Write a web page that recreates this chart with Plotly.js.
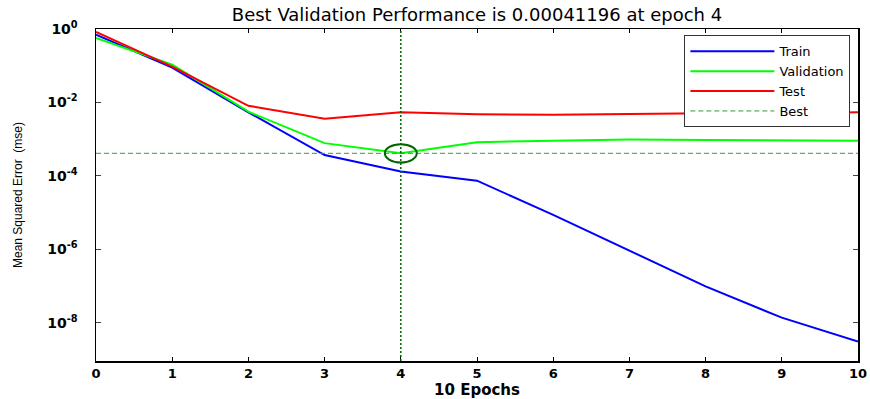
<!DOCTYPE html>
<html>
<head>
<meta charset="utf-8">
<script src="https://cdn.plot.ly/plotly-3.0.1.min.js"></script>
<style>
  html, body { margin: 0; padding: 0; background: #fff; }
  #chart { width: 870px; height: 399px; }
</style>
</head>
<body>
<div id="chart"></div>
<script>
// ---- data ----
const epochs = [0, 1, 2, 3, 4, 5, 6, 7, 8, 9, 10];
const trainPerf = [0.70, 0.089, 0.0054, 0.00037, 0.000132, 0.000074, 8.7e-6, 9.3e-7, 9.8e-8, 1.38e-8, 3.1e-9];
const valPerf   = [0.57, 0.107, 0.0056, 0.00078, 0.00041196, 0.00083, 0.00091, 0.00098, 0.00095, 0.00091, 0.00091];
const testPerf  = [0.83, 0.095, 0.0081, 0.0036, 0.0054, 0.0048, 0.0046, 0.0049, 0.0051, 0.0051, 0.0054];
const bestEpoch = 4;
const bestPerf = 0.00041196;
const yTickVals = [1, 1e-2, 1e-4, 1e-6, 1e-8];
const yTickText = ['10<sup>0</sup>', '10<sup>-2</sup>', '10<sup>-4</sup>', '10<sup>-6</sup>', '10<sup>-8</sup>'];
const xTickVals = epochs;
const seriesNames = ['Train', 'Validation', 'Test', 'Best'];
const titleText = 'Best Validation Performance is ' + bestPerf + ' at epoch ' + bestEpoch;
const xTitle = '10 Epochs';
const yTitle = 'Mean Squared Error  (mse)';

const WIDE = 'DejaVu Sans, Verdana, sans-serif';
const NARROW = 'Liberation Sans, Arial, sans-serif';
const xMin = epochs[0], xMax = epochs[epochs.length - 1];
const ringHalfDecades = 0.25;   // vertical half-size of the best-point ring (style)

const traces = [
  { x: epochs, y: trainPerf, name: seriesNames[0], mode: 'lines', line: { color: '#0000ff', width: 2 } },
  { x: epochs, y: valPerf,   name: seriesNames[1], mode: 'lines', line: { color: '#00ff00', width: 2 } },
  { x: epochs, y: testPerf,  name: seriesNames[2], mode: 'lines', line: { color: '#ff0000', width: 2 } },
  { x: [xMin, xMax], y: [bestPerf, bestPerf], name: seriesNames[3], mode: 'lines',
    line: { color: '#3a9a3a', width: 1, dash: '5px,3px' } }
];

const layout = {
  width: 870, height: 399,
  margin: { l: 96, r: 12, t: 29, b: 38 },
  paper_bgcolor: '#ffffff', plot_bgcolor: '#ffffff',
  font: { family: WIDE, color: '#000' },
  title: { text: titleText, font: { family: WIDE, size: 18, color: '#000' },
           xref: 'paper', x: 0.5, xanchor: 'center', yref: 'container', y: 0.962, yanchor: 'middle' },
  showlegend: true,
  legend: {
    x: 0.99, y: 0.981, xanchor: 'right', yanchor: 'top',
    bgcolor: '#ffffff', bordercolor: '#333', borderwidth: 1,
    font: { family: WIDE, size: 13, color: '#000' },
    tracegroupgap: 0, itemwidth: 84
  },
  xaxis: {
    range: [xMin, xMax], tickmode: 'array', tickvals: xTickVals,
    ticks: 'inside', ticklen: 4, tickcolor: '#000', tickwidth: 1,
    showline: true, linecolor: '#000', linewidth: 1.5, mirror: 'ticks',
    showgrid: false, zeroline: false,
    tickfont: { family: WIDE, size: 13, weight: 'bold', color: '#000' },
    title: { text: xTitle, font: { family: WIDE, size: 15, weight: 'bold', color: '#000' }, standoff: 4 }
  },
  yaxis: {
    type: 'log', range: [-9.04, 0], tickmode: 'array', tickvals: yTickVals, ticktext: yTickText,
    ticks: 'inside', ticklen: 5, tickcolor: '#444', tickwidth: 1,
    showline: true, linecolor: '#000', linewidth: 1.5, mirror: 'ticks',
    showgrid: false, zeroline: false, ticklabelstandoff: 14,
    tickfont: { family: WIDE, size: 14, weight: 'bold', color: '#000' },
    title: { text: yTitle, font: { family: NARROW, size: 12, color: '#000' }, standoff: 22 }
  },
  shapes: [
    { type: 'line', xref: 'x', yref: 'paper', x0: bestEpoch, x1: bestEpoch, y0: 0, y1: 1,
      line: { color: '#006400', width: 1.5, dash: '2px,2px' }, layer: 'above' },
    { type: 'circle', xref: 'x', yref: 'y',
      xsizemode: 'pixel', xanchor: bestEpoch, x0: -16, x1: 16,
      y0: bestPerf * Math.pow(10, -ringHalfDecades), y1: bestPerf * Math.pow(10, ringHalfDecades),
      line: { color: '#006400', width: 2 }, layer: 'above' }
  ]
};

Plotly.newPlot('chart', traces, layout, { displayModeBar: false, staticPlot: true });
</script>
</body>
</html>
